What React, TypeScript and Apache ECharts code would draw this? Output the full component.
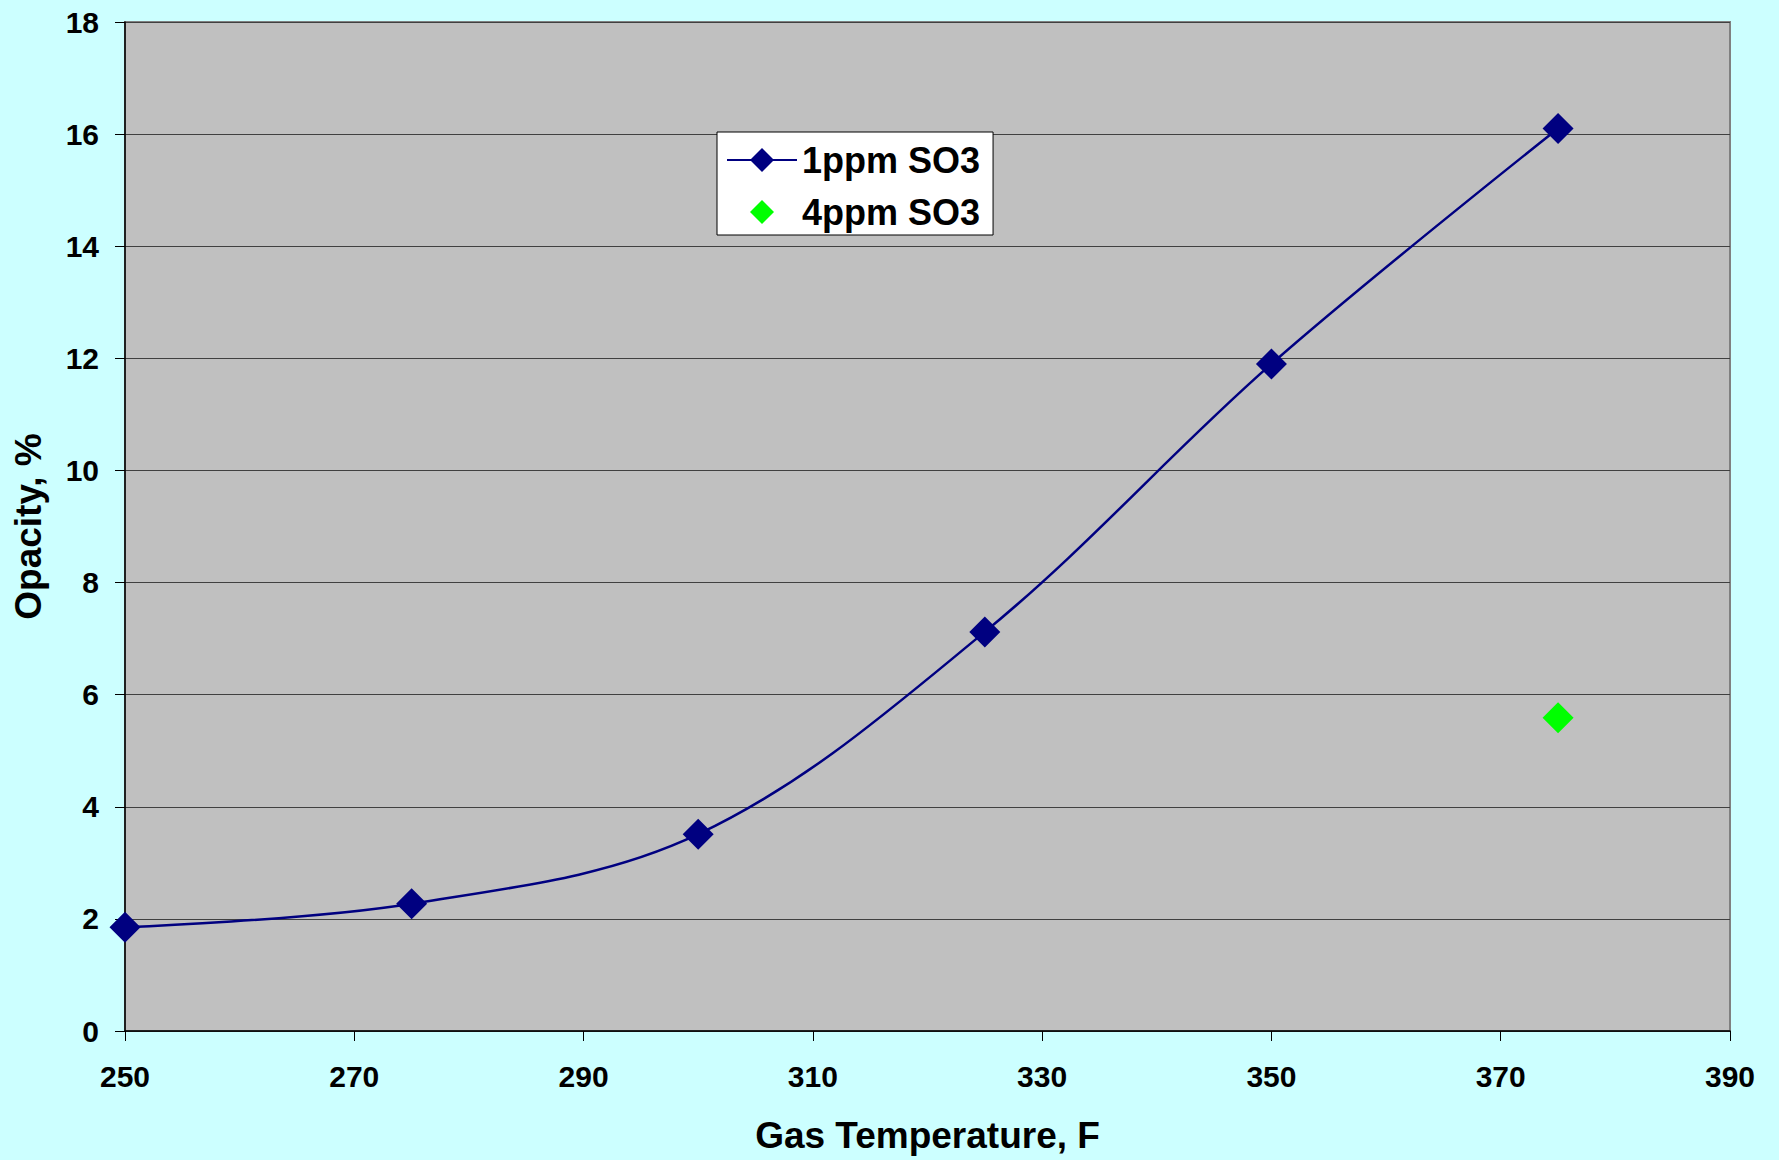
import React, { useEffect, useRef } from "react";
import * as echarts from "echarts";

const temps1ppm = [250, 275, 300, 325, 350, 375];
const opacity1ppm = [1.85, 2.27, 3.51, 7.12, 11.9, 16.1];
const temps4ppm = [375];
const opacity4ppm = [5.59];
const seriesNames = ["1ppm SO3", "4ppm SO3"];
const xTitle = "Gas Temperature, F";
const yTitle = "Opacity, %";

const FONT = "'Liberation Sans', Arial, sans-serif";
const SMALL_DIAMOND = "path://M0,0 M15,3 L27,15 L15,27 L3,15 Z M30,30";

export default function App() {
  const ref = useRef<HTMLDivElement>(null);
  useEffect(() => {
    document.body.style.margin = "0";
    const chart = echarts.init(ref.current!, null, { renderer: "svg" });
    chart.setOption({
      animation: false,
      backgroundColor: "#CCFFFF",
      textStyle: { fontFamily: FONT },
      grid: {
        left: 125,
        right: 49,
        top: 22,
        bottom: 129,
        show: true,
        backgroundColor: "#C0C0C0",
        borderColor: "#808080",
        borderWidth: 2,
      },
      legend: {
        left: 717,
        top: 132,
        orient: "vertical",
        backgroundColor: "#FFFFFF",
        borderColor: "#000000",
        borderWidth: 1,
        borderRadius: 0,
        padding: [10, 13, 5, 9],
        itemWidth: 70,
        itemHeight: 30,
        itemGap: 16,
        symbolKeepAspect: true,
        textStyle: {
          fontFamily: FONT,
          fontWeight: "bold",
          fontSize: 36,
          color: "#000000",
          lineHeight: 36,
        },
        data: [
          { name: seriesNames[0] },
          { name: seriesNames[1], icon: SMALL_DIAMOND },
        ],
      },
      xAxis: {
        type: "value",
        min: 250,
        max: 390,
        interval: 20,
        name: xTitle,
        nameLocation: "middle",
        nameGap: 86,
        nameTextStyle: { fontFamily: FONT, fontWeight: "bold", fontSize: 37, color: "#000" },
        axisLine: { show: true, onZero: false, lineStyle: { color: "#000", width: 1.5 } },
        axisTick: { show: true, length: 10, lineStyle: { color: "#000" } },
        axisLabel: { fontFamily: FONT, fontWeight: "bold", fontSize: 30, color: "#000", margin: 30 },
        splitLine: { show: false },
      },
      yAxis: {
        type: "value",
        min: 0,
        max: 18,
        interval: 2,
        name: yTitle,
        nameLocation: "middle",
        nameGap: 78,
        nameTextStyle: { fontFamily: FONT, fontWeight: "bold", fontSize: 37, color: "#000" },
        axisLine: { show: true, lineStyle: { color: "#000", width: 1.5 } },
        axisTick: { show: true, length: 10, lineStyle: { color: "#000" } },
        axisLabel: { fontFamily: FONT, fontWeight: "bold", fontSize: 30, color: "#000", margin: 26 },
        splitLine: { show: true, lineStyle: { color: "#404040", width: 1 } },
      },
      series: [
        {
          name: seriesNames[0],
          type: "line",
          data: temps1ppm.map((t, i) => [t, opacity1ppm[i]]),
          smooth: 0.35,
          symbol: "diamond",
          symbolSize: 31,
          lineStyle: { color: "#000080", width: 2.5 },
          itemStyle: { color: "#000080", opacity: 1 },
          z: 3,
        },
        {
          name: seriesNames[1],
          type: "scatter",
          data: temps4ppm.map((t, i) => [t, opacity4ppm[i]]),
          symbol: "diamond",
          symbolSize: 31,
          itemStyle: { color: "#00FF00", opacity: 1 },
          z: 3,
        },
      ],
    });
    return () => chart.dispose();
  }, []);
  return (
    <div
      ref={ref}
      style={{ position: "absolute", left: 0, top: 0, width: 1779, height: 1160 }}
    />
  );
}
